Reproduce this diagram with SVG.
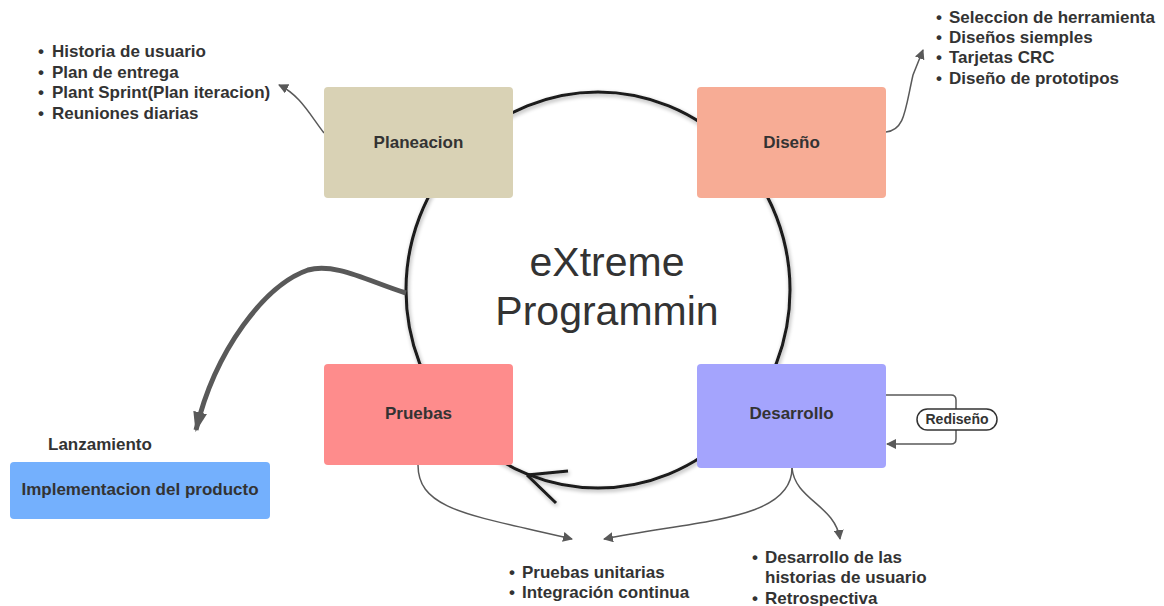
<svg xmlns="http://www.w3.org/2000/svg" width="1164" height="606" viewBox="0 0 1164 606">
<style>
.t{font-family:"Liberation Sans",Arial,sans-serif;font-weight:bold;font-size:17px;fill:#333}
.big{font-family:"Liberation Sans",Arial,sans-serif;font-size:41px;fill:#333}
.c{fill:none;stroke:#595959;stroke-width:1.5}
</style>
<defs>
<marker id="ah" viewBox="0 0 10 10" refX="9" refY="5" markerWidth="10" markerHeight="10" markerUnits="userSpaceOnUse" orient="auto"><path d="M0,0 L10,5 L0,10 Z" fill="#595959"/></marker>
<marker id="ahb" viewBox="0 0 20 14" refX="18" refY="7" markerWidth="20" markerHeight="14" markerUnits="userSpaceOnUse" orient="auto"><path d="M0,0 L20,7 L0,14 Z" fill="#595959"/></marker>
<filter id="sh" x="-10%" y="-10%" width="120%" height="120%"><feGaussianBlur in="SourceAlpha" stdDeviation="2"/><feOffset dx="1" dy="2"/><feComponentTransfer><feFuncA type="linear" slope="0.35"/></feComponentTransfer><feMerge><feMergeNode/><feMergeNode in="SourceGraphic"/></feMerge></filter>
</defs>
<rect width="1164" height="606" fill="#fff"/>
<g id="cycle" filter="url(#sh)">
<ellipse cx="598" cy="290" rx="192" ry="198" fill="none" stroke="#1a1a1a" stroke-width="3"/>
<path d="M527,475 L568,471 M527,475 L556,503" fill="none" stroke="#1a1a1a" stroke-width="3"/>
</g>
<text class="big" x="607" y="276" text-anchor="middle">eXtreme</text>
<text class="big" x="607" y="325" text-anchor="middle">Programmin</text>
<g id="connectors">
<path class="c" d="M324,133 C310,115 300,95 279,85" marker-end="url(#ah)"/>
<path class="c" d="M886,132 C905,130 905,110 913,75 L923,50" marker-end="url(#ah)"/>
<path class="c" d="M886,395 H951 Q956,395 956,400 V439 Q956,444 951,444 H887" marker-end="url(#ah)"/>
<path class="c" d="M418,465 C418,510 470,515 572,539" marker-end="url(#ah)"/>
<path class="c" d="M792,468 C792,520 700,520 604,539" marker-end="url(#ah)"/>
<path class="c" d="M792,468 C795,500 835,505 840,539" marker-end="url(#ah)"/>
<path d="M406,293 C370,282 335,262 308,270 C265,285 215,350 196,430" fill="none" stroke="#595959" stroke-width="5" marker-end="url(#ahb)"/>
</g>
<g id="redisenio">
<rect x="917" y="409" width="80" height="21" rx="10.5" fill="#fff" stroke="#333" stroke-width="1.5"/>
<text class="t" x="957" y="424" text-anchor="middle" style="font-size:14px">Rediseño</text>
</g>
<g id="planeacion">
<rect x="324" y="87" width="189" height="111" rx="4" fill="#d9d2b5"/>
<text class="t" x="418.5" y="148" text-anchor="middle">Planeacion</text>
</g>
<g id="diseno">
<rect x="697" y="87" width="189" height="111" rx="4" fill="#f7ac95"/>
<text class="t" x="791.5" y="148" text-anchor="middle">Diseño</text>
</g>
<g id="pruebas">
<rect x="324" y="364" width="189" height="101" rx="4" fill="#fe8c8c"/>
<text class="t" x="418.5" y="419" text-anchor="middle">Pruebas</text>
</g>
<g id="desarrollo">
<rect x="697" y="364" width="189" height="104" rx="4" fill="#a4a4fd"/>
<text class="t" x="791.5" y="419" text-anchor="middle">Desarrollo</text>
</g>
<g id="implementacion">
<rect x="10" y="462" width="260" height="57" rx="4" fill="#74b0fd"/>
<text class="t" x="140" y="495" text-anchor="middle">Implementacion del producto</text>
</g>
<g id="lanzamiento"><text class="t" x="48" y="450">Lanzamiento</text></g>
<g id="list-planeacion">
<text class="t" x="38" y="57">•</text><text class="t" x="52" y="57">Historia de usuario</text>
<text class="t" x="38" y="78">•</text><text class="t" x="52" y="78">Plan de entrega</text>
<text class="t" x="38" y="98">•</text><text class="t" x="52" y="98">Plant Sprint(Plan iteracion)</text>
<text class="t" x="38" y="119">•</text><text class="t" x="52" y="119">Reuniones diarias</text>
</g>
<g id="list-diseno">
<text class="t" x="936" y="23">•</text><text class="t" x="949" y="23">Seleccion de herramienta</text>
<text class="t" x="936" y="43">•</text><text class="t" x="949" y="43">Diseños siemples</text>
<text class="t" x="936" y="63">•</text><text class="t" x="949" y="63">Tarjetas CRC</text>
<text class="t" x="936" y="84">•</text><text class="t" x="949" y="84">Diseño de prototipos</text>
</g>
<g id="list-pruebas">
<text class="t" x="509" y="578">•</text><text class="t" x="522" y="578">Pruebas unitarias</text>
<text class="t" x="509" y="598">•</text><text class="t" x="522" y="598">Integración continua</text>
</g>
<g id="list-desarrollo">
<text class="t" x="752" y="563">•</text><text class="t" x="765" y="563">Desarrollo de las</text>
<text class="t" x="765" y="583">historias de usuario</text>
<text class="t" x="752" y="604">•</text><text class="t" x="765" y="604">Retrospectiva</text>
</g>
</svg>
